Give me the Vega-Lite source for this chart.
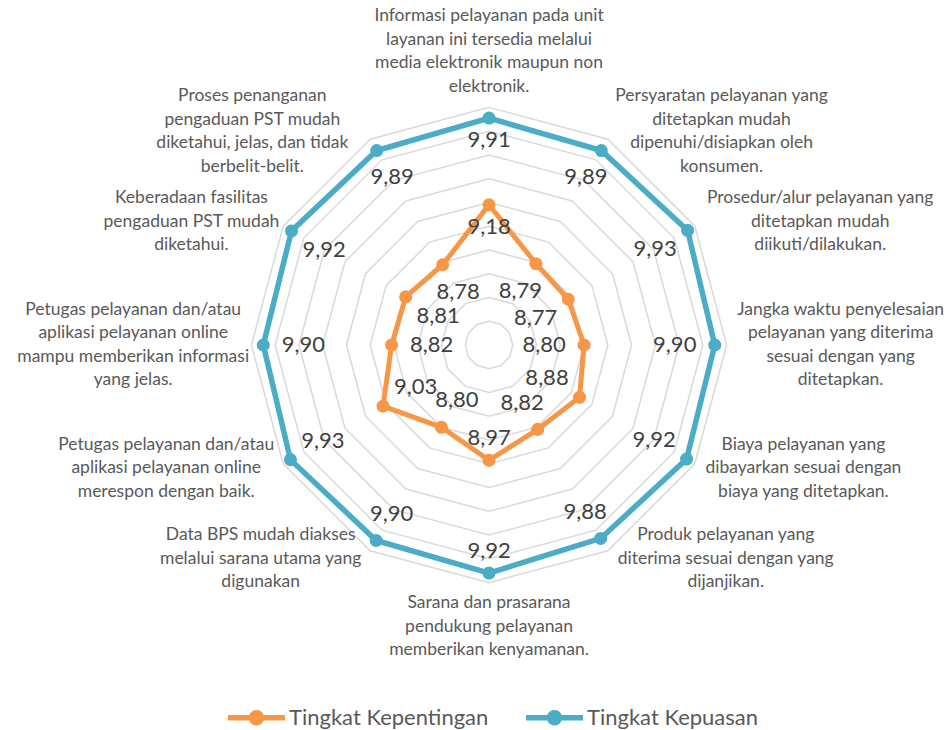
{
  "$schema": "https://vega.github.io/schema/vega-lite/v6.json",
  "width": 950,
  "height": 690,
  "padding": 0,
  "background": "white",
  "config": {"view": {"stroke": null}, "font": "Lato"},
  "datasets": {
    "scores": [
      {"i": 0, "series": "Tingkat Kepentingan", "value": 9.18},
      {"i": 1, "series": "Tingkat Kepentingan", "value": 8.79},
      {"i": 2, "series": "Tingkat Kepentingan", "value": 8.77},
      {"i": 3, "series": "Tingkat Kepentingan", "value": 8.80},
      {"i": 4, "series": "Tingkat Kepentingan", "value": 8.88},
      {"i": 5, "series": "Tingkat Kepentingan", "value": 8.82},
      {"i": 6, "series": "Tingkat Kepentingan", "value": 8.97},
      {"i": 7, "series": "Tingkat Kepentingan", "value": 8.80},
      {"i": 8, "series": "Tingkat Kepentingan", "value": 9.03},
      {"i": 9, "series": "Tingkat Kepentingan", "value": 8.82},
      {"i": 10, "series": "Tingkat Kepentingan", "value": 8.81},
      {"i": 11, "series": "Tingkat Kepentingan", "value": 8.78},
      {"i": 0, "series": "Tingkat Kepuasan", "value": 9.91},
      {"i": 1, "series": "Tingkat Kepuasan", "value": 9.89},
      {"i": 2, "series": "Tingkat Kepuasan", "value": 9.93},
      {"i": 3, "series": "Tingkat Kepuasan", "value": 9.90},
      {"i": 4, "series": "Tingkat Kepuasan", "value": 9.92},
      {"i": 5, "series": "Tingkat Kepuasan", "value": 9.88},
      {"i": 6, "series": "Tingkat Kepuasan", "value": 9.92},
      {"i": 7, "series": "Tingkat Kepuasan", "value": 9.90},
      {"i": 8, "series": "Tingkat Kepuasan", "value": 9.93},
      {"i": 9, "series": "Tingkat Kepuasan", "value": 9.90},
      {"i": 10, "series": "Tingkat Kepuasan", "value": 9.92},
      {"i": 11, "series": "Tingkat Kepuasan", "value": 9.89}
    ],
    "cats": [
      {"i": 0, "label": ["Informasi pelayanan pada unit", "layanan ini tersedia melalui", "media elektronik maupun non", "elektronik."]},
      {"i": 1, "label": ["Persyaratan pelayanan yang", "ditetapkan mudah", "dipenuhi/disiapkan oleh", "konsumen."]},
      {"i": 2, "label": ["Prosedur/alur pelayanan yang", "ditetapkan mudah", "diikuti/dilakukan."]},
      {"i": 3, "label": ["Jangka waktu penyelesaian", "pelayanan yang diterima", "sesuai dengan yang", "ditetapkan."]},
      {"i": 4, "label": ["Biaya pelayanan yang", "dibayarkan sesuai dengan", "biaya yang ditetapkan."]},
      {"i": 5, "label": ["Produk pelayanan yang", "diterima sesuai dengan yang", "dijanjikan."]},
      {"i": 6, "label": ["Sarana dan prasarana", "pendukung pelayanan", "memberikan kenyamanan."]},
      {"i": 7, "label": ["Data BPS mudah diakses", "melalui sarana utama yang", "digunakan"]},
      {"i": 8, "label": ["Petugas pelayanan dan/atau", "aplikasi pelayanan online", "merespon dengan baik."]},
      {"i": 9, "label": ["Petugas pelayanan dan/atau", "aplikasi pelayanan online", "mampu memberikan informasi", "yang jelas."]},
      {"i": 10, "label": ["Keberadaan fasilitas", "pengaduan PST mudah", "diketahui."]},
      {"i": 11, "label": ["Proses penanganan", "pengaduan PST mudah", "diketahui, jelas, dan tidak", "berbelit-belit."]}
    ],
    "rings": [
      {"level": 8.2, "k": [0,1,2,3,4,5,6,7,8,9,10,11]},
      {"level": 8.4, "k": [0,1,2,3,4,5,6,7,8,9,10,11]},
      {"level": 8.6, "k": [0,1,2,3,4,5,6,7,8,9,10,11]},
      {"level": 8.8, "k": [0,1,2,3,4,5,6,7,8,9,10,11]},
      {"level": 9.0, "k": [0,1,2,3,4,5,6,7,8,9,10,11]},
      {"level": 9.2, "k": [0,1,2,3,4,5,6,7,8,9,10,11]},
      {"level": 9.4, "k": [0,1,2,3,4,5,6,7,8,9,10,11]},
      {"level": 9.6, "k": [0,1,2,3,4,5,6,7,8,9,10,11]},
      {"level": 9.8, "k": [0,1,2,3,4,5,6,7,8,9,10,11]},
      {"level": 10.0, "k": [0,1,2,3,4,5,6,7,8,9,10,11]}
    ]
  },
  "layer": [
    {
      "data": {"name": "rings"},
      "transform": [
        {"flatten": ["k"]},
        {"calculate": "datum.k * PI / 6", "as": "theta"},
        {"calculate": "(datum.level - 8) * sin(datum.theta)", "as": "x"},
        {"calculate": "(datum.level - 8) * cos(datum.theta)", "as": "y"}
      ],
      "mark": {"type": "line", "interpolate": "linear-closed", "color": "#d9d9d9", "strokeWidth": 1.5},
      "encoding": {
        "x": {"field": "x", "type": "quantitative", "scale": {"domain": [-4.116, 3.88], "nice": false, "zero": false}, "axis": null},
        "y": {"field": "y", "type": "quantitative", "scale": {"domain": [-2.904, 2.904], "nice": false, "zero": false}, "axis": null},
        "detail": {"field": "level", "type": "nominal"},
        "order": {"field": "k", "type": "quantitative"}
      }
    },
    {
      "data": {"name": "scores"},
      "transform": [
        {"filter": "datum.series === 'Tingkat Kepentingan'"},
        {"calculate": "datum.i * PI / 6", "as": "theta"},
        {"calculate": "(datum.value - 8) * sin(datum.theta)", "as": "x"},
        {"calculate": "(datum.value - 8) * cos(datum.theta)", "as": "y"}
      ],
      "mark": {"type": "line", "interpolate": "linear-closed", "color": "#F79646", "strokeWidth": 5},
      "encoding": {
        "x": {"field": "x", "type": "quantitative", "axis": null},
        "y": {"field": "y", "type": "quantitative", "axis": null},
        "order": {"field": "i", "type": "quantitative"}
      }
    },
    {
      "data": {"name": "scores"},
      "transform": [
        {"filter": "datum.series === 'Tingkat Kepuasan'"},
        {"calculate": "datum.i * PI / 6", "as": "theta"},
        {"calculate": "(datum.value - 8) * sin(datum.theta)", "as": "x"},
        {"calculate": "(datum.value - 8) * cos(datum.theta)", "as": "y"}
      ],
      "mark": {"type": "line", "interpolate": "linear-closed", "color": "#4BACC6", "strokeWidth": 5.5},
      "encoding": {
        "x": {"field": "x", "type": "quantitative", "axis": null},
        "y": {"field": "y", "type": "quantitative", "axis": null},
        "order": {"field": "i", "type": "quantitative"}
      }
    },
    {
      "data": {"name": "scores"},
      "transform": [
        {"calculate": "datum.i * PI / 6", "as": "theta"},
        {"calculate": "(datum.value - 8) * sin(datum.theta)", "as": "x"},
        {"calculate": "(datum.value - 8) * cos(datum.theta)", "as": "y"}
      ],
      "mark": {"type": "point", "filled": true, "size": 170, "opacity": 1},
      "encoding": {
        "x": {"field": "x", "type": "quantitative", "axis": null},
        "y": {"field": "y", "type": "quantitative", "axis": null},
        "color": {
          "field": "series", "type": "nominal",
          "scale": {"domain": ["Tingkat Kepentingan", "Tingkat Kepuasan"], "range": ["#F79646", "#4BACC6"]},
          "legend": {
            "orient": "none", "legendX": 228, "legendY": 689, "direction": "horizontal", "title": null,
            "symbolType": "M-1,-0.1L1,-0.1L1,0.1L-1,0.1Z M0.27,0A0.27,0.27 0 1,1 -0.27,0A0.27,0.27 0 1,1 0.27,0Z",
            "symbolSize": 3249, "symbolStrokeWidth": 0, "symbolOpacity": 1,
            "labelFontSize": 22, "labelColor": "#595959", "labelFont": "Lato", "labelLimit": 400,
            "columnPadding": 37, "labelOffset": 4, "padding": 0
          }
        }
      }
    },
    {
      "data": {"name": "scores"},
      "transform": [
        {"calculate": "datum.i * PI / 6", "as": "theta"},
        {"calculate": "(datum.value - 8) - (22 + 18 * abs(sin(datum.theta))) / 118.8", "as": "lr"},
        {"calculate": "datum.lr * sin(datum.theta)", "as": "lx"},
        {"calculate": "datum.lr * cos(datum.theta)", "as": "ly"},
        {"calculate": "replace(format(datum.value, '.2f'), '.', ',')", "as": "txt"}
      ],
      "mark": {"type": "text", "fontSize": 22, "color": "#404040", "align": "center", "baseline": "middle", "font": "Lato"},
      "encoding": {
        "x": {"field": "lx", "type": "quantitative", "axis": null},
        "y": {"field": "ly", "type": "quantitative", "axis": null},
        "text": {"field": "txt", "type": "nominal"}
      }
    },
    {
      "data": {"name": "cats"},
      "transform": [
        {"calculate": "datum.i * PI / 6", "as": "theta"},
        {"calculate": "sin(datum.theta)", "as": "s"},
        {"calculate": "cos(datum.theta)", "as": "c"},
        {"calculate": "abs(datum.s) > 0.01 ? (datum.s > 0 ? 1 : -1) : 0", "as": "side"},
        {"calculate": "datum.label.length", "as": "n"},
        {"calculate": "max(length(datum.label[0]), datum.n > 1 ? length(datum.label[1]) : 0, datum.n > 2 ? length(datum.label[2]) : 0, datum.n > 3 ? length(datum.label[3]) : 0)", "as": "ml"},
        {"calculate": "(2 + 9 / 118.8) * datum.s + datum.side * (datum.ml * 8.4 / 2) / 118.8", "as": "cx"},
        {"calculate": "(2 + 9 / 118.8) * datum.c + (datum.side == 0 ? (datum.c > 0 ? 1 : -1) * datum.n * 23.5 / 2 / 118.8 : 0) + (datum.n - 1) * 23.5 / 2 / 118.8", "as": "cy"}
      ],
      "mark": {"type": "text", "fontSize": 17.5, "color": "#595959", "align": "center", "baseline": "middle", "lineHeight": 23.5, "font": "Lato"},
      "encoding": {
        "x": {"field": "cx", "type": "quantitative", "axis": null},
        "y": {"field": "cy", "type": "quantitative", "axis": null},
        "text": {"field": "label", "type": "nominal"}
      }
    }
  ]
}
